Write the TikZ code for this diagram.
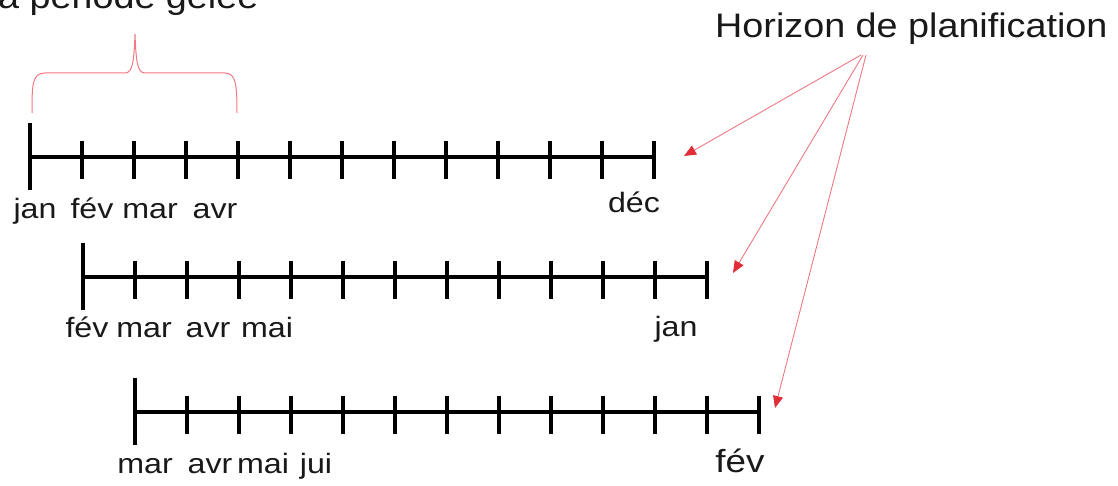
\documentclass[tikz,border=0pt]{standalone}
\usepackage{fontspec}
\setmainfont{Liberation Sans}
\usetikzlibrary{arrows.meta}
\definecolor{ln}{RGB}{240,120,130}
\definecolor{hd}{RGB}{225,45,55}
\definecolor{tx}{RGB}{25,25,25}
\begin{document}
\begin{tikzpicture}[x=1pt,y=-1pt,
  axis/.style={line width=4pt, black},
  lbl/.style={font=\fontsize{28}{32}\selectfont, text=tx, anchor=base, inner sep=0pt, xscale=1.15},
  biglbl/.style={font=\fontsize{32}{36}\selectfont, text=tx, anchor=base, inner sep=0pt, xscale=1.15},
  head/.style={font=\fontsize{34}{40}\selectfont, text=tx, anchor=base west, inner sep=0pt, xscale=1.11},
  harrow/.style={draw=ln, line width=0.9pt, -{Triangle[length=12pt,width=10pt,color=hd]}},
  brace/.style={draw=ln, line width=1pt}]
\useasboundingbox (0,0) rectangle (1118,486);
% timelines
\foreach \xs/\y in {30/157, 83/277, 135/412} {
  \draw[axis] (\xs,\y) -- (\xs+624,\y);
  \draw[axis] (\xs,\y-34) -- (\xs,\y+33);
  \foreach \i in {1,...,12} \draw[axis] (\xs+52*\i,\y-16) -- (\xs+52*\i,\y+22);
}
% headings
\node[head] (pg) at (-23,9) {La période gelée};
\node[head] (hz) at (715,38) {Horizon de planification};
% labels row 1
\node[lbl] (a1) at (35,219) {jan};
\node[lbl] (a2) at (92,219) {fév};
\node[lbl] (a3) at (150,219) {mar};
\node[lbl] (a4) at (215,219) {avr};
\node[lbl] (a5) at (634,213) {déc};
% labels row 2
\node[lbl] (b1) at (87,337) {fév};
\node[lbl] (b2) at (144,337) {mar};
\node[lbl] (b3) at (208,337) {avr};
\node[lbl] (b4) at (267,337) {mai};
\node[lbl] (b5) at (676,336) {jan};
% labels row 3
\node[lbl] (c1) at (145,473) {mar};
\node[lbl] (c2) at (210,473) {avr};
\node[lbl] (c3) at (263,473) {mai};
\node[lbl] (c4) at (316,473) {jui};
\node[biglbl] (c5) at (740,472) {fév};
% brace
\draw[brace] (32,113) .. controls (32,85) and (32,73) .. (45,73) -- (125,73)
  .. controls (133,73) and (134,60) .. (135,34)
  .. controls (136,60) and (137,73) .. (145,73) -- (225,73)
  .. controls (236,73) and (237,85) .. (237,113);
% arrows
\coordinate (s1) at (861,55);
\coordinate (s2) at (863,55);
\coordinate (s3) at (866,55);
\coordinate (t1) at (684,156);
\coordinate (t2) at (733,273);
\coordinate (t3) at (775,408);
\draw[harrow] (s1) -- (t1);
\draw[harrow] (s2) -- (t2);
\draw[harrow] (s3) -- (t3);
\end{tikzpicture}
\end{document}
